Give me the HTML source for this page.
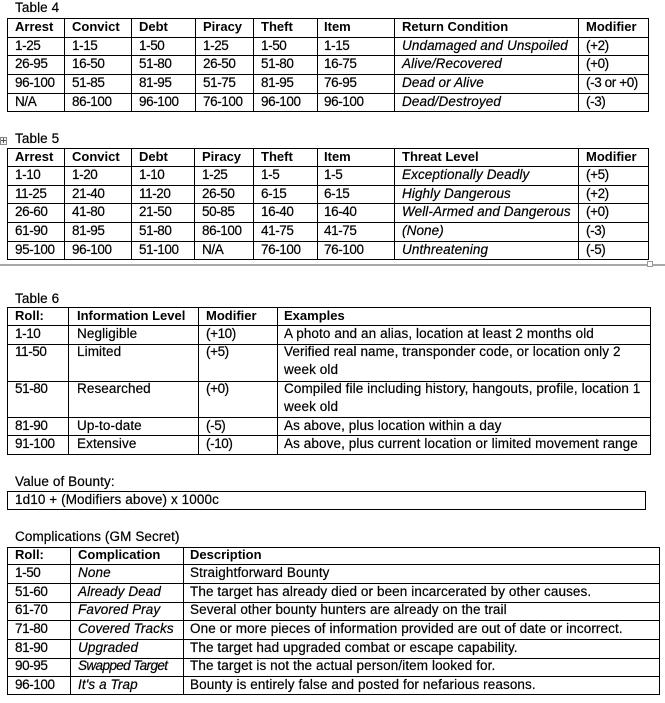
<!DOCTYPE html>
<html>
<head>
<meta charset="utf-8">
<style>
html,body{margin:0;padding:0;background:#fff;}
body{width:665px;height:703px;position:relative;overflow:hidden;font-family:"Liberation Sans",Arial,sans-serif;color:#000;}
.h{position:absolute;height:1px;background:#000;}
.v{position:absolute;width:1px;background:#000;}
.t{position:absolute;white-space:nowrap;font-size:13.5px;letter-spacing:0.1px;line-height:18px;-webkit-text-stroke:0.2px #000;}
.b{font-weight:bold;font-size:13px;letter-spacing:0;-webkit-text-stroke:0;}
.i{font-style:italic;}
.n{letter-spacing:-0.4px;}
</style>
</head>
<body>

<!-- Table 4 -->
<div class="t" style="left:15px;top:-1px">Table 4</div>
<div class="h" style="top:18px;left:7px;width:642px"></div>
<div class="h" style="top:37px;left:7px;width:642px"></div>
<div class="h" style="top:55px;left:7px;width:642px"></div>
<div class="h" style="top:74px;left:7px;width:642px"></div>
<div class="h" style="top:93px;left:7px;width:642px"></div>
<div class="h" style="top:111px;left:7px;width:642px"></div>
<div class="v" style="left:7px;top:18px;height:94px"></div>
<div class="v" style="left:64px;top:18px;height:94px"></div>
<div class="v" style="left:131px;top:18px;height:94px"></div>
<div class="v" style="left:195px;top:18px;height:94px"></div>
<div class="v" style="left:253px;top:18px;height:94px"></div>
<div class="v" style="left:317px;top:18px;height:94px"></div>
<div class="v" style="left:394px;top:18px;height:94px"></div>
<div class="v" style="left:578px;top:18px;height:94px"></div>
<div class="v" style="left:648px;top:18px;height:94px"></div>

<div class="t b" style="left:15px;top:18px">Arrest</div>
<div class="t b" style="left:72px;top:18px">Convict</div>
<div class="t b" style="left:139px;top:18px">Debt</div>
<div class="t b" style="left:203px;top:18px">Piracy</div>
<div class="t b" style="left:261px;top:18px">Theft</div>
<div class="t b" style="left:324px;top:18px">Item</div>
<div class="t b" style="left:402px;top:18px">Return Condition</div>
<div class="t b" style="left:586px;top:18px">Modifier</div>

<div class="t n" style="left:15px;top:37px">1-25</div>
<div class="t n" style="left:72px;top:37px">1-15</div>
<div class="t n" style="left:139px;top:37px">1-50</div>
<div class="t n" style="left:203px;top:37px">1-25</div>
<div class="t n" style="left:261px;top:37px">1-50</div>
<div class="t n" style="left:324px;top:37px">1-15</div>
<div class="t i" style="left:402px;top:37px">Undamaged and Unspoiled</div>
<div class="t n" style="left:586px;top:37px">(+2)</div>

<div class="t n" style="left:15px;top:55px">26-95</div>
<div class="t n" style="left:72px;top:55px">16-50</div>
<div class="t n" style="left:139px;top:55px">51-80</div>
<div class="t n" style="left:203px;top:55px">26-50</div>
<div class="t n" style="left:261px;top:55px">51-80</div>
<div class="t n" style="left:324px;top:55px">16-75</div>
<div class="t i" style="left:402px;top:55px">Alive/Recovered</div>
<div class="t n" style="left:586px;top:55px">(+0)</div>

<div class="t n" style="left:15px;top:74px">96-100</div>
<div class="t n" style="left:72px;top:74px">51-85</div>
<div class="t n" style="left:139px;top:74px">81-95</div>
<div class="t n" style="left:203px;top:74px">51-75</div>
<div class="t n" style="left:261px;top:74px">81-95</div>
<div class="t n" style="left:324px;top:74px">76-95</div>
<div class="t i" style="left:402px;top:74px">Dead or Alive</div>
<div class="t n" style="left:586px;top:74px">(-3 or +0)</div>

<div class="t n" style="left:15px;top:93px">N/A</div>
<div class="t n" style="left:72px;top:93px">86-100</div>
<div class="t n" style="left:139px;top:93px">96-100</div>
<div class="t n" style="left:203px;top:93px">76-100</div>
<div class="t n" style="left:261px;top:93px">96-100</div>
<div class="t n" style="left:324px;top:93px">96-100</div>
<div class="t i" style="left:402px;top:93px">Dead/Destroyed</div>
<div class="t n" style="left:586px;top:93px">(-3)</div>

<!-- Table 5 -->
<div style="position:absolute;left:0;top:137px;width:5px;height:6px;border:1px solid #8a8a8a;background:#f4f4f4"></div>
<div style="position:absolute;left:1px;top:140px;width:5px;height:1px;background:#555"></div>
<div style="position:absolute;left:3px;top:138px;width:1px;height:5px;background:#555"></div>
<div class="t" style="left:15px;top:130px">Table 5</div>
<div class="h" style="top:148px;left:7px;width:642px"></div>
<div class="h" style="top:166px;left:7px;width:642px"></div>
<div class="h" style="top:185px;left:7px;width:642px"></div>
<div class="h" style="top:203px;left:7px;width:642px"></div>
<div class="h" style="top:222px;left:7px;width:642px"></div>
<div class="h" style="top:241px;left:7px;width:642px"></div>
<div class="h" style="top:259px;left:7px;width:642px"></div>
<div class="v" style="left:7px;top:148px;height:112px"></div>
<div class="v" style="left:64px;top:148px;height:112px"></div>
<div class="v" style="left:131px;top:148px;height:112px"></div>
<div class="v" style="left:194px;top:148px;height:112px"></div>
<div class="v" style="left:253px;top:148px;height:112px"></div>
<div class="v" style="left:317px;top:148px;height:112px"></div>
<div class="v" style="left:394px;top:148px;height:112px"></div>
<div class="v" style="left:578px;top:148px;height:112px"></div>
<div class="v" style="left:648px;top:148px;height:112px"></div>

<div class="t b" style="left:15px;top:148px">Arrest</div>
<div class="t b" style="left:72px;top:148px">Convict</div>
<div class="t b" style="left:139px;top:148px">Debt</div>
<div class="t b" style="left:202px;top:148px">Piracy</div>
<div class="t b" style="left:261px;top:148px">Theft</div>
<div class="t b" style="left:324px;top:148px">Item</div>
<div class="t b" style="left:402px;top:148px">Threat Level</div>
<div class="t b" style="left:586px;top:148px">Modifier</div>

<div class="t n" style="left:15px;top:166px">1-10</div>
<div class="t n" style="left:72px;top:166px">1-20</div>
<div class="t n" style="left:139px;top:166px">1-10</div>
<div class="t n" style="left:202px;top:166px">1-25</div>
<div class="t n" style="left:261px;top:166px">1-5</div>
<div class="t n" style="left:324px;top:166px">1-5</div>
<div class="t i" style="left:402px;top:166px">Exceptionally Deadly</div>
<div class="t n" style="left:586px;top:166px">(+5)</div>

<div class="t n" style="left:15px;top:185px">11-25</div>
<div class="t n" style="left:72px;top:185px">21-40</div>
<div class="t n" style="left:139px;top:185px">11-20</div>
<div class="t n" style="left:202px;top:185px">26-50</div>
<div class="t n" style="left:261px;top:185px">6-15</div>
<div class="t n" style="left:324px;top:185px">6-15</div>
<div class="t i" style="left:402px;top:185px">Highly Dangerous</div>
<div class="t n" style="left:586px;top:185px">(+2)</div>

<div class="t n" style="left:15px;top:203px">26-60</div>
<div class="t n" style="left:72px;top:203px">41-80</div>
<div class="t n" style="left:139px;top:203px">21-50</div>
<div class="t n" style="left:202px;top:203px">50-85</div>
<div class="t n" style="left:261px;top:203px">16-40</div>
<div class="t n" style="left:324px;top:203px">16-40</div>
<div class="t i" style="left:402px;top:203px">Well-Armed and Dangerous</div>
<div class="t n" style="left:586px;top:203px">(+0)</div>

<div class="t n" style="left:15px;top:222px">61-90</div>
<div class="t n" style="left:72px;top:222px">81-95</div>
<div class="t n" style="left:139px;top:222px">51-80</div>
<div class="t n" style="left:202px;top:222px">86-100</div>
<div class="t n" style="left:261px;top:222px">41-75</div>
<div class="t n" style="left:324px;top:222px">41-75</div>
<div class="t i" style="left:402px;top:222px">(None)</div>
<div class="t n" style="left:586px;top:222px">(-3)</div>

<div class="t n" style="left:15px;top:241px">95-100</div>
<div class="t n" style="left:72px;top:241px">96-100</div>
<div class="t n" style="left:139px;top:241px">51-100</div>
<div class="t n" style="left:202px;top:241px">N/A</div>
<div class="t n" style="left:261px;top:241px">76-100</div>
<div class="t n" style="left:324px;top:241px">76-100</div>
<div class="t i" style="left:402px;top:241px">Unthreatening</div>
<div class="t n" style="left:586px;top:241px">(-5)</div>

<!-- page separator -->
<div style="position:absolute;left:0;top:264px;width:665px;height:2px;background:#a8a8a8"></div>
<div style="position:absolute;left:647px;top:261px;width:4px;height:4px;border:1px solid #999;background:#fff"></div>

<!-- Table 6 -->
<div class="t" style="left:15px;top:290px">Table 6</div>
<div class="h" style="top:307px;left:7px;width:644px"></div>
<div class="h" style="top:325px;left:7px;width:644px"></div>
<div class="h" style="top:344px;left:7px;width:644px"></div>
<div class="h" style="top:381px;left:7px;width:644px"></div>
<div class="h" style="top:417px;left:7px;width:644px"></div>
<div class="h" style="top:435px;left:7px;width:644px"></div>
<div class="h" style="top:454px;left:7px;width:644px"></div>
<div class="v" style="left:7px;top:307px;height:148px"></div>
<div class="v" style="left:68px;top:307px;height:148px"></div>
<div class="v" style="left:198px;top:307px;height:148px"></div>
<div class="v" style="left:277px;top:307px;height:148px"></div>
<div class="v" style="left:650px;top:307px;height:148px"></div>

<div class="t b" style="left:15px;top:307px">Roll:</div>
<div class="t b" style="left:77px;top:307px">Information Level</div>
<div class="t b" style="left:206px;top:307px">Modifier</div>
<div class="t b" style="left:284px;top:307px">Examples</div>

<div class="t n" style="left:15px;top:325px">1-10</div>
<div class="t" style="left:77px;top:325px">Negligible</div>
<div class="t n" style="left:206px;top:325px">(+10)</div>
<div class="t" style="left:284px;top:325px">A photo and an alias, location at least 2 months old</div>

<div class="t n" style="left:15px;top:343px">11-50</div>
<div class="t" style="left:77px;top:343px">Limited</div>
<div class="t n" style="left:206px;top:343px">(+5)</div>
<div class="t" style="left:284px;top:343px">Verified real name, transponder code, or location only 2<br>week old</div>

<div class="t n" style="left:15px;top:380px">51-80</div>
<div class="t" style="left:77px;top:380px">Researched</div>
<div class="t n" style="left:206px;top:380px">(+0)</div>
<div class="t" style="left:284px;top:380px">Compiled file including history, hangouts, profile, location 1<br>week old</div>

<div class="t n" style="left:15px;top:417px">81-90</div>
<div class="t" style="left:77px;top:417px">Up-to-date</div>
<div class="t n" style="left:206px;top:417px">(-5)</div>
<div class="t" style="left:284px;top:417px">As above, plus location within a day</div>

<div class="t n" style="left:15px;top:435px">91-100</div>
<div class="t" style="left:77px;top:435px">Extensive</div>
<div class="t n" style="left:206px;top:435px">(-10)</div>
<div class="t" style="left:284px;top:435px">As above, plus current location or limited movement range</div>

<!-- Value of Bounty -->
<div class="t" style="left:15px;top:473px">Value of Bounty:</div>
<div class="h" style="top:491px;left:7px;width:639px"></div>
<div class="h" style="top:509px;left:7px;width:639px"></div>
<div class="v" style="left:7px;top:491px;height:19px"></div>
<div class="v" style="left:645px;top:491px;height:19px"></div>
<div class="t" style="left:15px;top:491px">1d10 + (Modifiers above) x 1000c</div>

<!-- Complications -->
<div class="t" style="left:15px;top:528px">Complications (GM Secret)</div>
<div class="h" style="top:547px;left:7px;width:653px"></div>
<div class="h" style="top:564px;left:7px;width:653px"></div>
<div class="h" style="top:583px;left:7px;width:653px"></div>
<div class="h" style="top:602px;left:7px;width:653px"></div>
<div class="h" style="top:620px;left:7px;width:653px"></div>
<div class="h" style="top:639px;left:7px;width:653px"></div>
<div class="h" style="top:658px;left:7px;width:653px"></div>
<div class="h" style="top:676px;left:7px;width:653px"></div>
<div class="h" style="top:694px;left:7px;width:653px"></div>
<div class="v" style="left:7px;top:547px;height:148px"></div>
<div class="v" style="left:70px;top:547px;height:148px"></div>
<div class="v" style="left:183px;top:547px;height:148px"></div>
<div class="v" style="left:659px;top:547px;height:148px"></div>

<div class="t b" style="left:15px;top:546px">Roll:</div>
<div class="t b" style="left:78px;top:546px">Complication</div>
<div class="t b" style="left:190px;top:546px">Description</div>

<div class="t n" style="left:15px;top:564px">1-50</div>
<div class="t i" style="left:78px;top:564px">None</div>
<div class="t" style="left:190px;top:564px">Straightforward Bounty</div>

<div class="t n" style="left:15px;top:583px">51-60</div>
<div class="t i" style="left:78px;top:583px">Already Dead</div>
<div class="t" style="left:190px;top:583px">The target has already died or been incarcerated by other causes.</div>

<div class="t n" style="left:15px;top:601px">61-70</div>
<div class="t i" style="left:78px;top:601px">Favored Pray</div>
<div class="t" style="left:190px;top:601px">Several other bounty hunters are already on the trail</div>

<div class="t n" style="left:15px;top:620px">71-80</div>
<div class="t i" style="left:78px;top:620px">Covered Tracks</div>
<div class="t" style="left:190px;top:620px">One or more pieces of information provided are out of date or incorrect.</div>

<div class="t n" style="left:15px;top:639px">81-90</div>
<div class="t i" style="left:78px;top:639px">Upgraded</div>
<div class="t" style="left:190px;top:639px">The target had upgraded combat or escape capability.</div>

<div class="t n" style="left:15px;top:657px">90-95</div>
<div class="t i" style="left:78px;top:657px;letter-spacing:-0.6px">Swapped Target</div>
<div class="t" style="left:190px;top:657px">The target is not the actual person/item looked for.</div>

<div class="t n" style="left:15px;top:676px">96-100</div>
<div class="t i" style="left:78px;top:676px">It's a Trap</div>
<div class="t" style="left:190px;top:676px">Bounty is entirely false and posted for nefarious reasons.</div>

</body>
</html>
